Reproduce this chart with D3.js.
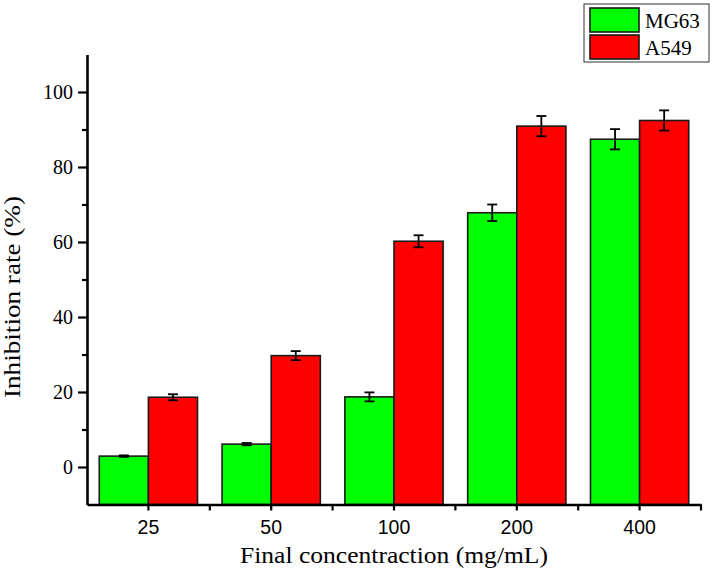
<!DOCTYPE html>
<html lang="en">
<head>
  <meta charset="UTF-8">
  <title>Inhibition rate bar chart</title>
  <style>
    body { margin: 0; background: #fff; }
  </style>
</head>
<body>
  <svg class="chart"></svg>
  <script src="https://cdn.jsdelivr.net/npm/d3@7/dist/d3.min.js"></script>
  <script>
    var w = 714;
    var h = 576;

    var concentrations = ["25", "50", "100", "200", "400"];
    var seriesNames = ["MG63", "A549"];
    var mg63 = [2.9, 6.1, 18.7, 67.8, 87.4];
    var mg63Err = [0.2, 0.3, 1.2, 2.2, 2.7];
    var a549 = [18.6, 29.7, 60.2, 90.9, 92.4];
    var a549Err = [0.8, 1.2, 1.6, 2.7, 2.7];
    var yTicks = [0, 20, 40, 60, 80, 100];
    var yMinor = [10, 30, 50, 70, 90];
    var colors = {"MG63": "#00ff00", "A549": "#ff0000"};

    var serif = "'Liberation Serif', 'Times New Roman', serif";
    var sans = "'Liberation Sans', Arial, sans-serif";

    var rows = concentrations.map((c, i) => ({
      conc: c,
      values: [
        {name: "MG63", v: mg63[i], e: mg63Err[i]},
        {name: "A549", v: a549[i], e: a549Err[i]}
      ]
    }));

    var svg = d3.select(".chart")
      .attr("width", w)
      .attr("height", h);

    var x = d3.scaleBand().domain(concentrations).range([87, 701]).padding(0);
    var xSub = d3.scaleBand().domain(seriesNames).range([0, x.bandwidth()]).paddingInner(0).paddingOuter(0.25);
    var y = d3.scaleLinear().domain([-10, 110]).range([504.5, 54.5]);

    // bars (Origin style: drawn up from the bottom of the axis)
    var groups = svg.selectAll("g.grp")
      .data(rows)
      .enter()
      .append("g")
      .attr("class", "grp")
      .attr("transform", d => "translate(" + x(d.conc) + ",0)");

    groups.selectAll("rect")
      .data(d => d.values)
      .enter()
      .append("rect")
      .attr("x", d => xSub(d.name))
      .attr("y", d => y(d.v))
      .attr("width", xSub.bandwidth())
      .attr("height", d => y(-10) - y(d.v))
      .attr("fill", d => colors[d.name])
      .attr("stroke", "#1a1a1a")
      .attr("stroke-width", 1.6);

    // error bars
    var errs = groups.selectAll("g.err")
      .data(d => d.values)
      .enter()
      .append("g")
      .attr("class", "err")
      .attr("stroke", "#000")
      .attr("stroke-width", 1.8);
    errs.append("line")
      .attr("x1", d => xSub(d.name) + xSub.bandwidth() / 2)
      .attr("x2", d => xSub(d.name) + xSub.bandwidth() / 2)
      .attr("y1", d => y(d.v + d.e))
      .attr("y2", d => y(d.v - d.e));
    errs.selectAll("line.cap")
      .data(d => [d.v + d.e, d.v - d.e].map(t => ({name: d.name, t: t})))
      .enter()
      .append("line")
      .attr("class", "cap")
      .attr("x1", d => xSub(d.name) + xSub.bandwidth() / 2 - 5)
      .attr("x2", d => xSub(d.name) + xSub.bandwidth() / 2 + 5)
      .attr("y1", d => y(d.t))
      .attr("y2", d => y(d.t));

    // y axis
    var yAxis = svg.append("g")
      .attr("transform", "translate(87,0)")
      .call(d3.axisLeft(y).tickValues(yTicks).tickSize(9).tickSizeOuter(0).tickPadding(5));
    yAxis.select(".domain").attr("stroke-width", 2.6);
    yAxis.selectAll(".tick line").attr("stroke-width", 2.2);
    yAxis.selectAll("text")
      .attr("font-family", serif)
      .attr("font-size", "20px")
      .attr("fill", "#000");
    var yMinorAxis = svg.append("g")
      .attr("transform", "translate(87,0)")
      .call(d3.axisLeft(y).tickValues(yMinor).tickSize(5).tickFormat(""));
    yMinorAxis.select(".domain").remove();
    yMinorAxis.selectAll(".tick line").attr("stroke-width", 2.2);

    // x axis
    var xAxis = svg.append("g")
      .attr("transform", "translate(0," + y(-10) + ")")
      .call(d3.axisBottom(x).tickSize(6).tickSizeOuter(0).tickPadding(10));
    xAxis.select(".domain").attr("stroke-width", 2.6);
    xAxis.selectAll(".tick line").attr("stroke-width", 2.2);
    xAxis.selectAll("text")
      .attr("font-family", sans)
      .attr("font-size", "19.5px")
      .attr("fill", "#000");
    xAxis.selectAll("line.edge")
      .data(concentrations)
      .enter()
      .append("line")
      .attr("class", "edge")
      .attr("x1", d => x(d) + x.bandwidth())
      .attr("x2", d => x(d) + x.bandwidth())
      .attr("y1", 0)
      .attr("y2", 6)
      .attr("stroke", "#000")
      .attr("stroke-width", 2.2);

    // axis titles
    svg.append("text")
      .text("Final concentraction (mg/mL)")
      .attr("x", 394)
      .attr("y", 563)
      .attr("text-anchor", "middle")
      .attr("textLength", 308)
      .attr("lengthAdjust", "spacingAndGlyphs")
      .attr("font-family", serif)
      .attr("font-size", "24px")
      .attr("fill", "#000");
    svg.append("text")
      .text("Inhibition rate (%)")
      .attr("transform", "translate(20,297) rotate(-90)")
      .attr("text-anchor", "middle")
      .attr("textLength", 202)
      .attr("lengthAdjust", "spacingAndGlyphs")
      .attr("font-family", serif)
      .attr("font-size", "24px")
      .attr("fill", "#000");

    // legend
    var legend = svg.append("g");
    legend.append("rect")
      .attr("x", 584).attr("y", 4)
      .attr("width", 125).attr("height", 58)
      .attr("fill", "#fff")
      .attr("stroke", "#333")
      .attr("stroke-width", 1);
    var items = legend.selectAll("g.item")
      .data(seriesNames)
      .enter()
      .append("g")
      .attr("class", "item")
      .attr("transform", (d, i) => "translate(590," + (8 + i * 27) + ")");
    items.append("rect")
      .attr("width", 49).attr("height", 24)
      .attr("fill", d => colors[d])
      .attr("stroke", "#1a1a1a")
      .attr("stroke-width", 1.6);
    items.append("text")
      .text(d => d)
      .attr("x", 55)
      .attr("y", 19.5)
      .attr("font-family", serif)
      .attr("font-size", "21px")
      .attr("fill", "#000");
  </script>
</body>
</html>
